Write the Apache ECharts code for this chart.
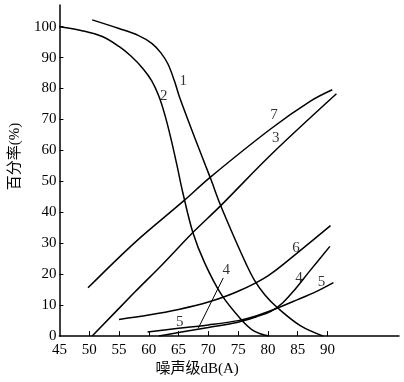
<!DOCTYPE html>
<html>
<head>
<meta charset="utf-8">
<script src="https://cdn.jsdelivr.net/npm/echarts@6/dist/echarts.min.js"></script>
<style>html,body{margin:0;padding:0;background:#fff;}#c{width:404px;height:382px;}</style>
</head>
<body>
<div id="c"></div>
<script>
// Data (x: 噪声级 dB(A), y: 百分率 %)
const curve1X = [50.5, 55, 58.3, 60.5, 62, 63.2, 64.3, 65.2, 67.7, 70.3, 72, 74.2, 76.3, 77.7, 79.5, 81.7, 85.5, 89.3];
const curve1Y = [102.2, 99.4, 97.1, 94.6, 91.6, 88, 82.5, 77, 64.2, 51.3, 42.5, 32.5, 23.5, 18.2, 13.3, 9, 3.3, 0];
const curve2X = [45, 48.8, 52.2, 55, 57, 59, 60.5, 61.7, 62.7, 63.7, 64.7, 65.7, 67.4, 69.4, 72.2, 75.5, 77.7, 80.2];
const curve2Y = [100, 98.7, 96.8, 93.6, 90.5, 86.5, 82.5, 77.5, 71.5, 64, 55.5, 46.5, 33.5, 23.6, 13.4, 5.4, 1.6, 0];
const curve3X = [50.5, 57.7, 62.2, 67.4, 72, 80.5, 91.5];
const curve3Y = [0, 14.3, 23, 33.5, 42, 58.6, 78.3];
const curve4X = [61.7, 65, 70, 75, 78, 80.5, 82.5, 84.5, 87, 90.4];
const curve4Y = [0, 1.2, 2.8, 4.5, 6.2, 8, 10.8, 15, 21, 29];
const curve5X = [59.8, 65, 70, 75, 78, 81, 85, 88, 91];
const curve5Y = [1.3, 2.5, 3.6, 5, 6.5, 8.6, 11.8, 14.3, 17.3];
const curve6X = [55, 60, 65, 70, 75, 80, 85, 90.5];
const curve6Y = [5.4, 6.8, 8.6, 11, 14.5, 19.5, 27, 35.7];
const curve7X = [49.8, 57.7, 65.8, 70.3, 80.5, 87.2, 90.8];
const curve7Y = [15.6, 30.3, 43.6, 51.3, 67, 76, 79.6];

const xTickLabels = [45, 50, 55, 60, 65, 70, 75, 80, 85, 90];
const yTickLabels = [0, 10, 20, 30, 40, 50, 60, 70, 80, 90, 100];

// curve annotations (data coordinates)
const labelText = ['1', '2', '7', '3', '6', '4', '5', '4', '5'];
const labelX = [65.8, 62.5, 81, 81.3, 84.7, 85.2, 89, 73, 65.2];
const labelY = [82.5, 77.7, 71.3, 64, 28.3, 18.8, 17.5, 21.3, 4.5];
const leaderFrom = [72.5, 18.8];
const leaderTo = [68.3, 2.5];

const curves = [
  [curve1X, curve1Y], [curve2X, curve2Y], [curve3X, curve3Y], [curve4X, curve4Y],
  [curve5X, curve5Y], [curve6X, curve6Y], [curve7X, curve7Y]
];
const zip = (xs, ys) => xs.map((x, i) => [x, ys[i]]);

const serif = '"Liberation Serif", "Noto Sans CJK SC", serif';
const lineSeries = curves.map((c, i) => ({
  type: 'line',
  name: 'c' + (i + 1),
  data: zip(c[0], c[1]),
  smooth: 0.35,
  symbol: 'none',
  lineStyle: { color: '#000', width: 1.5 },
  silent: true,
  z: 2,
  markLine: i === 3 ? {
    silent: true,
    symbol: 'none',
    label: { show: false },
    lineStyle: { color: '#000', width: 1, type: 'solid' },
    data: [[{ coord: leaderFrom }, { coord: leaderTo }]]
  } : undefined
}));

const chart = echarts.init(document.getElementById('c'), null, { renderer: 'canvas' });
chart.setOption({
  backgroundColor: '#fff',
  animation: false,
  grid: { left: 57, right: 5, top: 5, bottom: 40, containLabel: false },
  xAxis: {
    type: 'value', min: 45, max: 102, interval: 5,
    name: '噪声级dB(A)', nameLocation: 'middle', nameGap: 22,
    nameTextStyle: { fontFamily: serif, fontSize: 15, color: '#000', padding: [0, 64, 0, 0] },
    axisLine: { lineStyle: { color: '#000', width: 1.5 } },
    axisTick: { show: true, inside: true, length: 5, customValues: xTickLabels.slice(1), lineStyle: { color: '#000' } },
    axisLabel: { customValues: xTickLabels, fontFamily: serif, fontSize: 15, color: '#000', margin: 6 },
    splitLine: { show: false }
  },
  yAxis: {
    type: 'value', min: 0, max: 107, interval: 10,
    name: '百分率(%)', nameLocation: 'middle', nameGap: 33,
    nameTextStyle: { fontFamily: serif, fontSize: 15, color: '#000', padding: [0, 0, 0, 28] },
    axisLine: { show: true, lineStyle: { color: '#000', width: 1.5 } },
    axisTick: { show: true, inside: true, length: 4, customValues: yTickLabels.slice(1), lineStyle: { color: '#000' } },
    axisLabel: { customValues: yTickLabels, fontFamily: serif, fontSize: 15, color: '#000', margin: 3 },
    splitLine: { show: false }
  },
  series: lineSeries.concat([{
    type: 'scatter',
    name: 'labels',
    symbolSize: 0,
    silent: true,
    z: 3,
    data: labelText.map((t, i) => ({ name: t, value: [labelX[i], labelY[i]] })),
    label: { show: true, position: 'inside', formatter: p => p.name, fontFamily: serif, fontSize: 15, color: '#000' }
  }])
});
</script>
</body>
</html>
